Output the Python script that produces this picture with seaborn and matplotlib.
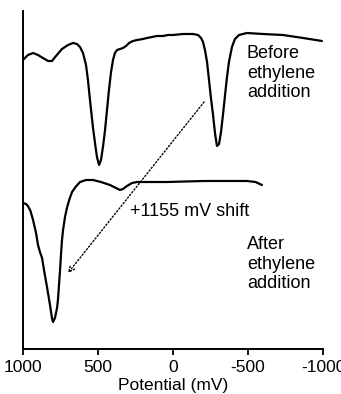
import matplotlib
matplotlib.use("Agg")
import matplotlib.pyplot as plt
import seaborn as sns
import pandas as pd

# Potential (mV) and current (arbitrary units, larger = higher on page)
before_potential = [1000, 967, 933, 900, 867, 833, 807, 780, 740, 700, 667, 640, 620, 600, 580, 567, 550,
                    533, 520, 507, 493, 480, 467, 453, 440, 427, 413, 400, 387, 373, 353, 333, 313, 293,
                    267, 240, 200, 173, 140, 107, 67, 33, 0, -67, -133, -167, -187, -200, -213, -227,
                    -240, -253, -267, -280, -293, -307, -320, -333, -347, -360, -373, -393, -413, -440,
                    -493, -600, -733, -867, -993]
before_current = [289, 294, 296, 294, 291, 288, 288, 293, 300, 304, 306, 305, 302, 296, 284, 269, 244,
                  221, 206, 192, 184, 189, 202, 219, 239, 259, 277, 289, 296, 299, 300, 301, 303, 306,
                  308, 309, 310, 311, 312, 313, 313, 314, 314, 315, 315, 314, 311, 307, 299, 287,
                  269, 251, 234, 216, 203, 205, 217, 234, 254, 272, 287, 302, 310, 314,
                  316, 315, 314, 311, 308]

after_potential = [1000, 980, 967, 950, 933, 913, 900, 887, 873, 860, 840, 820, 807, 800, 787, 773, 767,
                   760, 753, 747, 740, 733, 720, 707, 690, 673, 650, 620, 580, 533, 480, 420, 380, 353,
                   333, 307, 273, 240, 100, 40, -200, -400, -493, -550, -593]
after_current = [146, 145, 143, 138, 129, 116, 104, 97, 91, 79, 62, 44, 31, 27, 31, 41, 49,
                 64, 79, 94, 109, 119, 132, 141, 150, 157, 162, 167, 169, 169, 167, 164, 161, 159,
                 160, 163, 166, 167, 167, 167, 168, 168, 168, 167, 164]

x_ticks = [1000, 500, 0, -500, -1000]
x_label = "Potential (mV)"
before_label = "Before\nethylene\naddition"
after_label = "After\nethylene\naddition"
shift_label = "+1155 mV shift"

sns.set_style("ticks")
plt.rcParams["font.family"] = ["Liberation Sans", "DejaVu Sans"]
plt.rcParams["text.color"] = "black"

fig = plt.figure(figsize=(3.41, 3.94), dpi=100)
ax = fig.add_axes([23 / 341, 45 / 394, 300 / 341, 338 / 394])

df_b = pd.DataFrame({"p": before_potential, "i": before_current})
df_a = pd.DataFrame({"p": after_potential, "i": after_current})
sns.lineplot(data=df_b, x="p", y="i", sort=False, color="black", linewidth=1.6, ax=ax)
sns.lineplot(data=df_a, x="p", y="i", sort=False, color="black", linewidth=1.6, ax=ax)

ax.set_xlim(1000, -1000)
ax.set_ylim(0, 338)
ax.set_xticks(x_ticks)
ax.set_xticklabels([str(t) for t in x_ticks])
ax.set_yticks([])
ax.set_ylabel("")
ax.set_xlabel(x_label, fontsize=12.5, labelpad=2, color="black")
ax.tick_params(axis="x", direction="out", length=4, width=1.3, labelsize=12.5, pad=4,
               colors="black", labelcolor="black")
for s in ["top", "right"]:
    ax.spines[s].set_visible(False)
for s in ["left", "bottom"]:
    ax.spines[s].set_linewidth(1.4)
    ax.spines[s].set_color("black")

ax.annotate("", xy=(700, 76), xytext=(-207, 247),
            arrowprops=dict(arrowstyle="->", linestyle=(0, (1, 1.5)), color="black",
                            linewidth=1.0, shrinkA=0, shrinkB=0))

ax.text(-493, 304, before_label, fontsize=13, va="top", ha="left", linespacing=1.2, color="black")
ax.text(-493, 113, after_label, fontsize=13, va="top", ha="left", linespacing=1.2, color="black")
ax.text(287, 138, shift_label, fontsize=13, va="center", ha="left", color="black")

fig.savefig("out.png", dpi=100)
